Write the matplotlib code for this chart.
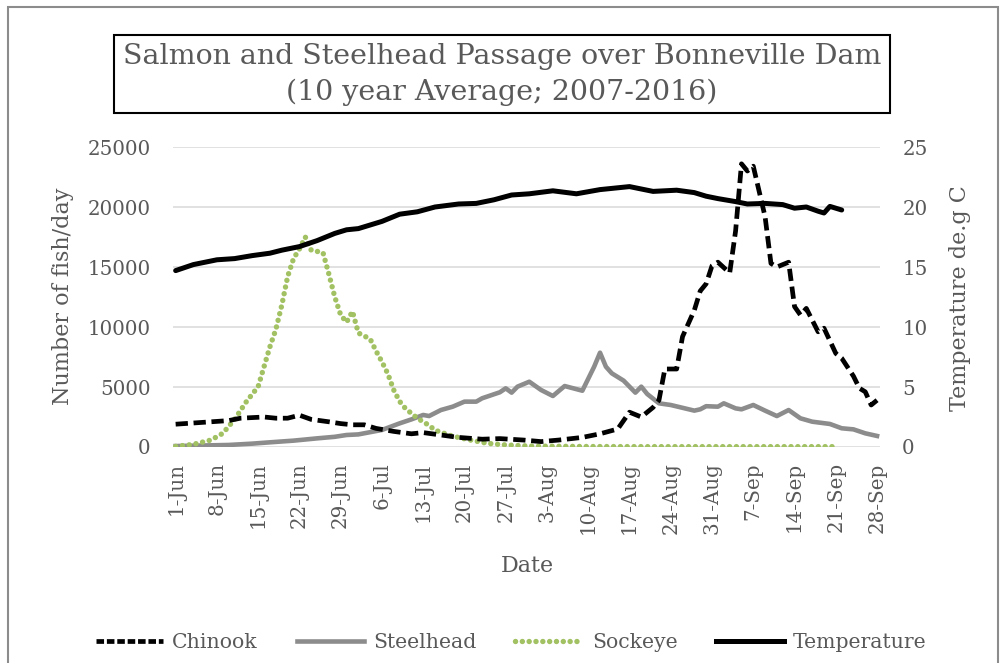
import matplotlib
matplotlib.use('Agg')
import matplotlib.pyplot as plt
from matplotlib.patches import Rectangle
from matplotlib.lines import Line2D

plt.rcParams['font.family'] = ['DejaVu Serif']
TXT = '#595959'

# days counted from 1-Jun (day 0) to 28-Sep (day 119)
tick_days = list(range(0, 120, 7))
tick_labels = ['1-Jun', '8-Jun', '15-Jun', '22-Jun', '29-Jun', '6-Jul', '13-Jul',
               '20-Jul', '27-Jul', '3-Aug', '10-Aug', '17-Aug', '24-Aug', '31-Aug',
               '7-Sep', '14-Sep', '21-Sep', '28-Sep']

chinook_days = [0, 3, 6, 9, 11, 13, 15, 17, 19, 21, 23, 26, 28, 30, 32, 34, 37, 40,
                42, 45, 48, 52, 55, 59, 62, 65, 69, 72, 75, 77, 79, 81, 82, 83, 85,
                86, 88, 89, 90, 91, 92, 94, 95, 96, 97, 98, 100, 101, 102, 104, 105,
                106, 107, 109, 110, 112, 113, 115, 116, 117, 118, 119]
chinook = [1900, 2000, 2100, 2200, 2400, 2450, 2500, 2400, 2400, 2650, 2300, 2100,
           1950, 1850, 1850, 1550, 1300, 1100, 1200, 1000, 800, 650, 700, 580, 450,
           580, 800, 1100, 1500, 2900, 2500, 3300, 3900, 6500, 6500, 9200, 11400,
           13000, 13600, 15100, 15400, 14500, 18000, 23600, 23000, 23400, 19200,
           15300, 15000, 15400, 11700, 11000, 11550, 9600, 9900, 7800, 7400, 5900,
           4900, 4600, 3500, 3900]

steel_days = [0, 4, 9, 13, 16, 20, 24, 27, 29, 31, 35, 38, 40, 42, 43, 45, 47, 49,
              51, 52, 55, 56, 57, 58, 60, 62, 64, 66, 69, 71, 72, 73, 74, 76, 78,
              79, 80, 82, 84, 88, 89, 90, 92, 93, 95, 96, 98, 100, 102, 104, 106,
              108, 111, 113, 115, 117, 119]
steelhead = [80, 120, 170, 280, 390, 530, 720, 850, 1000, 1050, 1420, 1970, 2300,
             2670, 2580, 3080, 3360, 3780, 3780, 4060, 4560, 4890, 4530, 5030, 5440,
             4750, 4250, 5080, 4690, 6690, 7860, 6690, 6140, 5530, 4530, 5030, 4420,
             3640, 3500, 3030, 3140, 3400, 3360, 3640, 3220, 3140, 3500, 3030, 2580,
             3080, 2390, 2110, 1920, 1560, 1470, 1140, 920]

sock_days = [0, 3, 6, 8, 10, 12, 14, 15, 16, 17, 18, 19, 20, 21, 22, 23, 24, 25, 26,
             27, 28, 29, 30, 31, 32, 33, 34, 35, 36, 37, 38, 39, 41, 43, 44, 47, 50,
             53, 56, 60, 70, 80, 90, 100, 112]
sockeye = [50, 220, 580, 1140, 2300, 3780, 5030, 6700, 8360, 9800, 11800, 14200,
           15700, 16500, 17500, 16400, 16300, 16200, 14400, 12500, 11000, 10400,
           11300, 9500, 9250, 9000, 8000, 7100, 6100, 4750, 3800, 3200, 2400, 1800,
           1400, 900, 580, 300, 170, 80, 40, 30, 30, 30, 30]

temp_days = [0, 3, 7, 10, 13, 16, 18, 21, 24, 27, 29, 31, 35, 38, 41, 44, 48, 51,
             54, 57, 60, 64, 68, 72, 77, 81, 85, 88, 90, 92, 95, 97, 100, 103, 105,
             107, 109, 110, 111, 113]
temperature = [14.7, 15.2, 15.6, 15.7, 15.95, 16.15, 16.4, 16.7, 17.2, 17.8, 18.1,
               18.2, 18.8, 19.4, 19.6, 20.0, 20.25, 20.3, 20.6, 21.0, 21.1, 21.35,
               21.1, 21.45, 21.7, 21.3, 21.4, 21.2, 20.9, 20.7, 20.45, 20.25, 20.3,
               20.2, 19.9, 20.0, 19.65, 19.5, 20.05, 19.75]

W, H = 1001, 663
fig = plt.figure(figsize=(W / 100, H / 100), dpi=100)

def fx(px):
    return px / W

def fy(py):
    return 1 - py / H

ax = fig.add_axes([fx(172.7), fy(447), (880 - 172.7) / W, 300 / H])
ax2 = ax.twinx()

ax.plot(chinook_days, chinook, color='black', lw=3.4, dashes=(2.6, 1.2), zorder=4)
ax.plot(steel_days, steelhead, color='#8c8c8c', lw=3.3, solid_joinstyle='round', zorder=3)
ax.plot(sock_days, sockeye, color='#a2c163', lw=3.9, dashes=(0.01, 1.25),
        dash_capstyle='round', zorder=3)
ax2.plot(temp_days, temperature, color='black', lw=3.6, solid_capstyle='round',
         solid_joinstyle='round')

ax.set_xlim(-0.5, 119.5)
ax.set_ylim(0, 25000)
ax2.set_ylim(0, 25)
ax.set_yticks(range(0, 25001, 5000))
ax2.set_yticks(range(0, 26, 5))
ax.set_xticks(tick_days)
ax.set_xticklabels(tick_labels, rotation=90)
ax.grid(axis='y', color='#d9d9d9', lw=1.1)
ax.set_axisbelow(True)
for a in (ax, ax2):
    for s in a.spines.values():
        s.set_visible(False)
ax.tick_params(axis='x', length=0, pad=11, labelsize=14.3, labelcolor=TXT)
ax.tick_params(axis='y', length=0, pad=16, labelsize=14.3, labelcolor=TXT)
ax2.tick_params(axis='y', length=0, pad=16, labelsize=14.3, labelcolor=TXT)

# axis titles
fig.text(fx(63), fy(296), 'Number of fish/day', rotation=90, ha='center',
         va='center', fontsize=16, color=TXT)
fig.text(fx(960), fy(298), 'Temperature de.g C', rotation=90, ha='center',
         va='center', fontsize=16, color=TXT)
fig.text(fx(527), fy(566), 'Date', ha='center', va='center', fontsize=16, color=TXT)

# title box
fig.patches.append(Rectangle((fx(114), fy(113)), (890 - 114) / W, (113 - 35) / H,
                             transform=fig.transFigure, fill=False,
                             edgecolor='black', lw=1.5))
fig.text(fx(502), fy(57), 'Salmon and Steelhead Passage over Bonneville Dam',
         ha='center', va='center', fontsize=20.5, color=TXT)
fig.text(fx(502), fy(92), '(10 year Average; 2007-2016)',
         ha='center', va='center', fontsize=20.5, color=TXT)

# outer chart border
fig.patches.append(Rectangle((fx(8), -0.1), 990 / W, fy(7) + 0.1,
                             transform=fig.transFigure, fill=False,
                             edgecolor='#8c8c8c', lw=1.5))

handles = [
    Line2D([], [], color='black', lw=3.4, dashes=(1.6, 0.6)),
    Line2D([], [], color='#8c8c8c', lw=3.3),
    Line2D([], [], color='#a2c163', lw=3.9, dashes=(0.01, 1.25), dash_capstyle='round'),
    Line2D([], [], color='black', lw=3.6),
]
fig.legend(handles, ['Chinook', 'Steelhead', 'Sockeye', 'Temperature'], ncol=4,
           loc='center', bbox_to_anchor=(fx(511), fy(643)), frameon=False,
           fontsize=14.7, labelcolor=TXT, handlelength=3.3, handletextpad=0.45,
           columnspacing=1.9)

fig.savefig('out.png', dpi=100)
